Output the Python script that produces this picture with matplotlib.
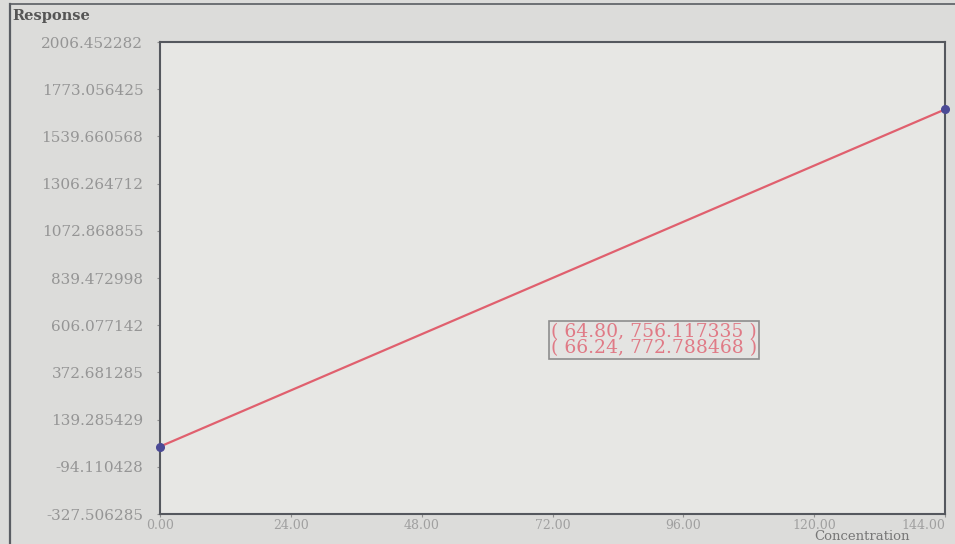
import matplotlib
matplotlib.use("Agg")
import matplotlib.pyplot as plt
from matplotlib.lines import Line2D

# Data
x_ticks = [0, 24, 48, 72, 96, 120, 144]
x_tick_labels = ["0.00", "24.00", "48.00", "72.00", "96.00", "120.00", "144.00"]
y_ticks = [-327.506285, -94.110428, 139.285429, 372.681285, 606.077142,
           839.472998, 1072.868855, 1306.264712, 1539.660568, 1773.056425, 2006.452282]
y_tick_labels = ["-327.506285", "-94.110428", "139.285429", "372.681285", "606.077142",
                 "839.472998", "1072.868855", "1306.264712", "1539.660568", "1773.056425", "2006.452282"]
conc = [0.0, 144.0]
resp = [5.915, 1673.03]
tooltip_lines = ["( 64.80, 756.117335 )", "( 66.24, 772.788468 )"]

serif = ["DejaVu Serif"]

fig = plt.figure(figsize=(9.55, 5.44), dpi=100, facecolor="#dcdcda")
ax = fig.add_axes([160/955, 1-514/544, (945-160)/955, (514-42)/544])
ax.set_facecolor("#e7e7e4")

ax.plot(conc, resp, color="#e0606e", lw=1.6, zorder=3)
ax.plot(conc, resp, ls="none", marker="o", ms=5.5, color="#4b4a96", zorder=4, clip_on=False)

ax.set_xlim(0, 144)
ax.set_ylim(y_ticks[0], y_ticks[-1])
ax.set_xticks(x_ticks)
ax.set_xticklabels(x_tick_labels)
ax.set_yticks(y_ticks)
ax.set_yticklabels(y_tick_labels)
for lab in ax.get_yticklabels():
    lab.set_family(serif)
    lab.set_fontsize(11)
    lab.set_color("#959595")
for lab in ax.get_xticklabels():
    lab.set_family(serif)
    lab.set_fontsize(9)
    lab.set_color("#a0a0a0")
ax.get_xticklabels()[-1].set_horizontalalignment("right")
ax.tick_params(axis="both", length=2, color="#909090")
ax.tick_params(axis="y", pad=10)
ax.tick_params(axis="x", pad=1.5)
for s in ax.spines.values():
    s.set_color("#55585e")
    s.set_linewidth(1.5)

# Axis titles
fig.text(12/955, 1-16/544, "Response", family=serif, fontsize=10.5, fontweight="bold",
         color="#555555", ha="left", va="center")
fig.text(910/955, 1-537/544, "Concentration", family=serif, fontsize=9.5,
         color="#777777", ha="right", va="center")

# Tooltip
fig.text(551/955, 1-340/544, "\n".join(tooltip_lines), family=serif, fontsize=13.5,
         color="#e07a86", ha="left", va="center", linespacing=0.85, zorder=5,
         bbox=dict(boxstyle="square,pad=0.12", fc="#e4e4e2", ec="#8d8d8d", lw=1.2))

# Outer panel frame
fig.add_artist(Line2D([10/955, 10/955], [0, 1-4/544], transform=fig.transFigure,
                      color="#5a5d63", lw=1.6))
fig.add_artist(Line2D([10/955, 1], [1-4/544, 1-4/544], transform=fig.transFigure,
                      color="#5a5d63", lw=1.2))

fig.savefig("out.png", dpi=100, facecolor=fig.get_facecolor())
